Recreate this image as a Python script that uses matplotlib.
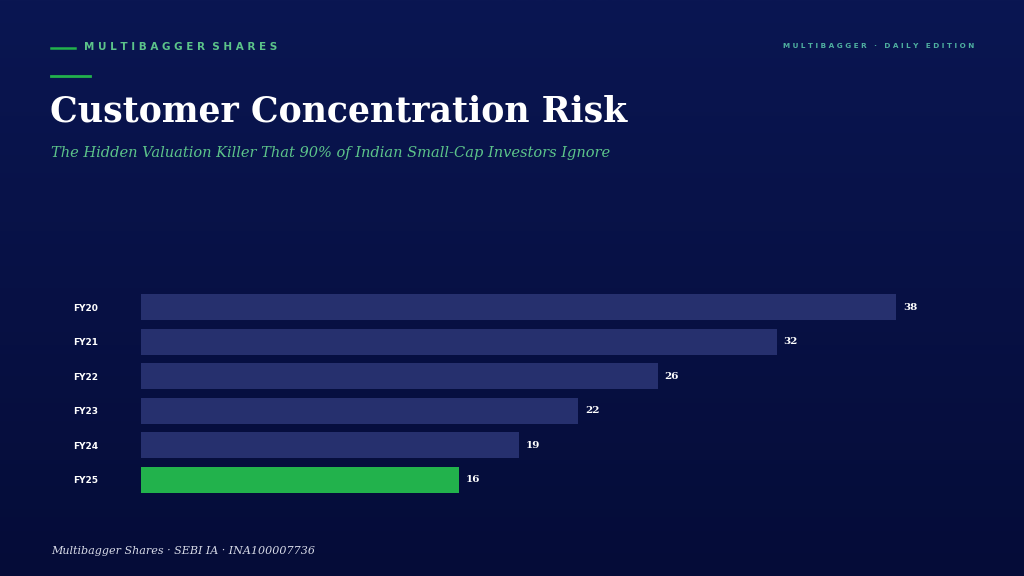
import numpy as np
import matplotlib.pyplot as plt

years = ["FY20", "FY21", "FY22", "FY23", "FY24", "FY25"]
values = [38, 32, 26, 22, 19, 16]
bar_colors = ["#26306e"] * 5 + ["#22b24c"]

W, H = 1024, 576
fig = plt.figure(figsize=(W / 100, H / 100), dpi=100)

# background gradient
bg = fig.add_axes([0, 0, 1, 1])
grad = np.linspace(0, 1, 256).reshape(-1, 1)
from matplotlib.colors import LinearSegmentedColormap
cmap = LinearSegmentedColormap.from_list("bg", ["#0a1652", "#050c38"])
bg.imshow(grad, aspect="auto", cmap=cmap, extent=[0, W, H, 0])
bg.set_xlim(0, W)
bg.set_ylim(H, 0)
bg.axis("off")

green = "#5cc48a"
bg.plot([51, 75], [48, 48], color="#22b24c", lw=1.8)
bg.text(84, 47, "M U L T I B A G G E R   S H A R E S".replace("   ", "  "),
        color=green, fontsize=7.5, fontweight="bold", va="center", family="DejaVu Sans")
bg.text(974, 46, "M U L T I B A G G E R   ·   D A I L Y   E D I T I O N",
        color="#4fb0a0", fontsize=5.2, fontweight="bold", va="center", ha="right")
bg.plot([51, 90], [76, 76], color="#22b24c", lw=2)
bg.text(50, 112, "Customer Concentration Risk", color="white", fontsize=25,
        fontweight="bold", family="DejaVu Serif", va="center")
bg.text(51, 153, "The Hidden Valuation Killer That 90% of Indian Small-Cap Investors Ignore",
        color=green, fontsize=10.5, style="italic", family="DejaVu Serif", va="center")
bg.text(51, 551, "Multibagger Shares · SEBI IA · INA100007736", color="#d8dbe8",
        fontsize=8, style="italic", family="DejaVu Serif", va="center")

# bar chart
scale = (896 - 141) / 38.0
ax = fig.add_axes([141 / W, 1 - 497 / H, 800 / W, 207 / H])
ax.set_facecolor("none")
y = np.arange(len(years))
ax.barh(y, values, height=0.76, color=bar_colors)
ax.set_xlim(0, 800 / scale)
ax.set_ylim(len(years) - 0.5, -0.5)
for i, v in enumerate(values):
    ax.text(v + 0.35, i, str(v), color="white", fontsize=7.5, fontweight="bold",
            family="DejaVu Serif", va="center")
ax.set_yticks(y)
ax.set_yticklabels(years, color="white", fontsize=6.5, fontweight="bold")
ax.tick_params(axis="y", length=0, pad=49)
for lbl in ax.get_yticklabels():
    lbl.set_horizontalalignment("left")
ax.set_xticks([])
for s in ax.spines.values():
    s.set_visible(False)

fig.savefig("out.png", dpi=100)
